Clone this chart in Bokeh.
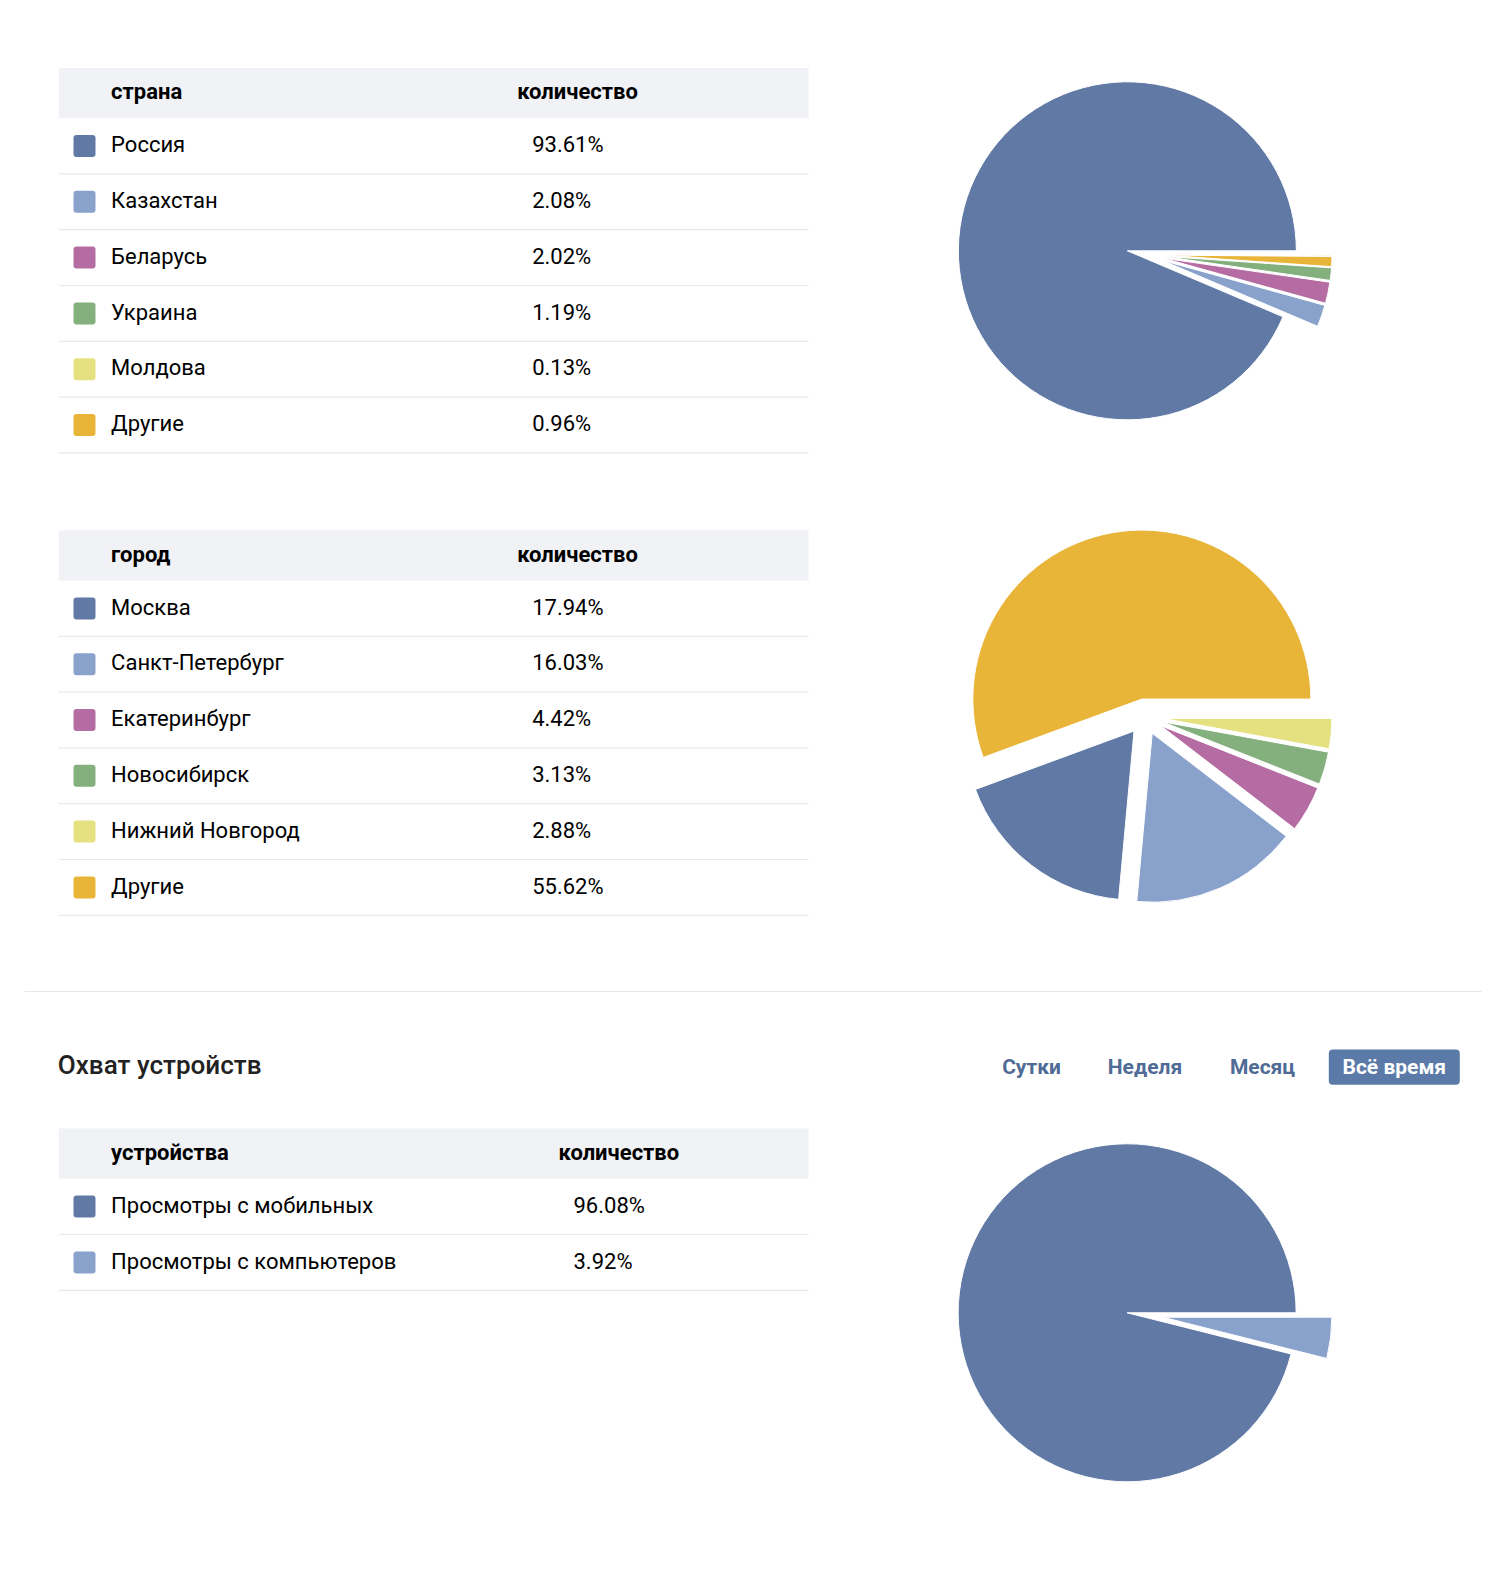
import math
from bokeh.plotting import figure
from bokeh.models import Range1d, ColumnDataSource
from bokeh.core.properties import value
from bokeh.embed import file_html
from bokeh.resources import INLINE

# ---------------- data ----------------
countries = ["Россия", "Казахстан", "Беларусь", "Украина", "Молдова", "Другие"]
country_pct = [93.61, 2.08, 2.02, 1.19, 0.13, 0.96]

cities = ["Москва", "Санкт-Петербург", "Екатеринбург", "Новосибирск", "Нижний Новгород", "Другие"]
city_pct = [17.94, 16.03, 4.42, 3.13, 2.88, 55.62]

devices = ["Просмотры с мобильных", "Просмотры с компьютеров"]
device_pct = [96.08, 3.92]

palette = ["#6079a5", "#89a2cb", "#b46ca2", "#84b07e", "#e6e180", "#e9b538"]

periods = ["Сутки", "Неделя", "Месяц", "Всё время"]
section_title = "Охват устройств"
value_header = "количество"

# ---------------- layout ----------------
W, H = 1504, 1576
FONT = value("Roboto")
BASE = -1.3  # baseline offset from row centre

p = figure(width=W, height=H, x_range=Range1d(0, W), y_range=Range1d(H, 0),
           output_backend="svg", toolbar_location=None,
           x_axis_type=None, y_axis_type=None, min_border=0,
           outline_line_color=None, background_fill_color="white")
p.xgrid.visible = False
p.ygrid.visible = False

TL, TR = 58.3, 808.0
BAND_H = 50.2
ROW_H = 55.8


def draw_table(top, head1, col2_x, labels, pcts):
    p.quad(left=[TL], right=[TR], top=[top], bottom=[top + BAND_H],
           fill_color="#f0f2f5", line_color=None)
    hy = top + BAND_H / 2 - 1.2
    p.text(x=[110.6, col2_x], y=[hy, hy], text=[head1, value_header],
           text_font=FONT, text_font_style="bold", text_font_size=value("22px"),
           text_color="#000000", text_baseline="alphabetic", text_align="left")
    n = len(labels)
    centers = [top + BAND_H + ROW_H * (i + 0.5) for i in range(n)]
    src = ColumnDataSource(dict(
        c=centers,
        sq_top=[c - 11 for c in centers],
        sq_bot=[c + 11 for c in centers],
        base=[c + BASE for c in centers],
        sep=[c + ROW_H / 2 for c in centers],
        label=labels,
        val=[f"{v:.2f}%" for v in pcts],
        color=palette[:n],
    ))
    p.segment(x0=TL, x1=TR, y0="sep", y1="sep", source=src,
              line_color="#e8e9ed", line_width=1.2)
    p.quad(left=73, right=95, top="sq_top", bottom="sq_bot", source=src,
           fill_color="color", line_color=None, border_radius=3)
    p.text(x=110.6, y="base", text="label", source=src,
           text_font=FONT, text_font_size=value("22px"), text_color="#000000",
           text_baseline="alphabetic", text_align="left")
    p.text(x=col2_x + 15, y="base", text="val", source=src,
           text_font=FONT, text_font_size=value("22px"), text_color="#000000",
           text_baseline="alphabetic", text_align="left")


def draw_pie(cx, cy, pcts, radius=169, explode=18):
    n = len(pcts)
    order = sorted(range(n), key=lambda i: -pcts[i])
    total = float(sum(pcts))
    xs, ys, sa, ea, cols = [], [], [], [], []
    start = 0.0
    for i in order:
        ang = 2 * math.pi * pcts[i] / total
        mid = start + ang / 2
        xs.append(cx + explode * math.cos(mid))
        ys.append(cy - explode * math.sin(mid))
        sa.append(start)
        ea.append(start + ang)
        cols.append(palette[i])
        start += ang
    src = ColumnDataSource(dict(x=xs, y=ys, sa=sa, ea=ea, color=cols))
    p.wedge(x="x", y="y", radius=radius, start_angle="sa", end_angle="ea",
            direction="anticlock", source=src, fill_color="color",
            line_color="white", line_width=1)


T1, T2, T3 = 67.4, 529.8, 1128.0
PIE_X = 1144.5

draw_table(T1, "страна", 516.7, countries, country_pct)
draw_pie(PIE_X, T1 + 186.5, country_pct)

draw_table(T2, "город", 516.7, cities, city_pct)
draw_pie(PIE_X, T2 + 186.5, city_pct)

# divider
p.segment(x0=[24], x1=[1481], y0=[991], y1=[991], line_color="#e6e7eb", line_width=1.2)

# section title
p.text(x=[57.3], y=[1064.0], text=[section_title], text_font=value("Roboto Medium"),
       text_font_size=value("26px"), text_color="#222222",
       text_baseline="alphabetic", text_align="left")

# period switch
btn_x = [1031.0, 1144.5, 1262.0, 1393.8]
p.quad(left=[1328.3], right=[1459.3], top=[1049.0], bottom=[1084.3],
       fill_color="#5b7aa8", line_color=None, border_radius=4)
p.text(x=btn_x[:3], y=[1066.3] * 3, text=periods[:3], text_font=FONT,
       text_font_style="bold", text_font_size=value("21px"), text_color="#4f6b96",
       text_baseline="alphabetic", text_align="center")
p.text(x=btn_x[3:], y=[1066.3], text=periods[3:], text_font=FONT,
       text_font_style="bold", text_font_size=value("21px"), text_color="#ffffff",
       text_baseline="alphabetic", text_align="center")

draw_table(T3, "устройства", 558.0, devices, device_pct)
draw_pie(PIE_X, T3 + 186.5, device_pct)

open("out.html", "w").write(file_html(p, INLINE))
